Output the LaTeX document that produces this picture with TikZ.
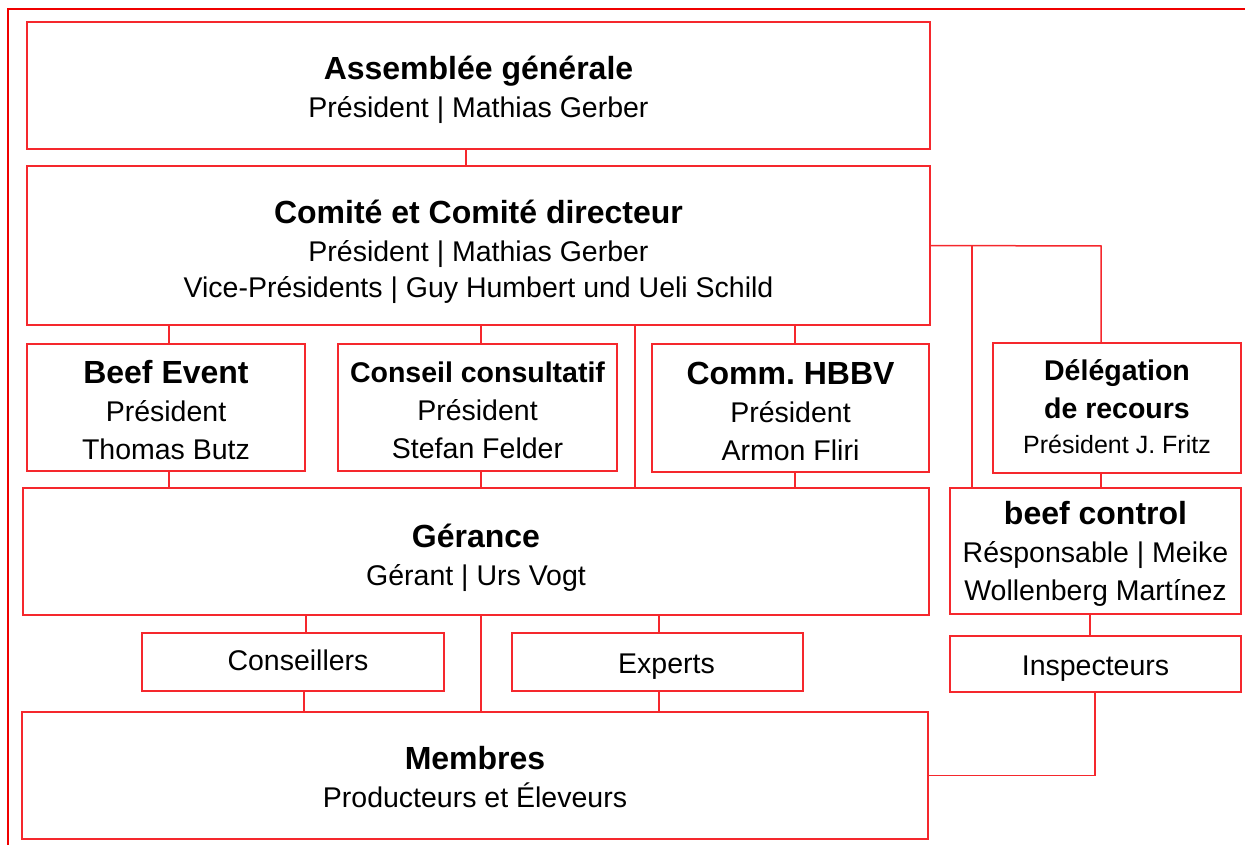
\documentclass[tikz,border=0pt]{standalone}
\usepackage{fontspec}
\setmainfont{Liberation Sans}
\frenchspacing
\definecolor{boxred}{RGB}{245,40,45}
\definecolor{framered}{RGB}{240,0,0}
\newcommand{\Tbig}[1]{{\fontsize{32}{38}\selectfont\bfseries #1}}
\newcommand{\Tsmall}[1]{{\fontsize{28.5}{38}\selectfont\bfseries #1}}
\newcommand{\Rsmall}[1]{{\fontsize{25}{36}\selectfont #1}}
\begin{document}
\begin{tikzpicture}[x=1pt,y=-1pt,
  box/.style={draw=boxred, line width=1.5pt, inner sep=0pt, outer sep=0pt,
    anchor=north west},
  txt/.style={inner sep=0pt, align=center, text=black,
    font=\fontsize{28.5}{38}\selectfont},
  link/.style={draw=boxred, line width=1.5pt}]
\useasboundingbox (0,0) rectangle (1245,845);
\draw[framered, line width=2pt] (8,845) -- (8,9) -- (1245,9);

% boxes
\node[box, minimum width=903pt, minimum height=127pt] (ag) at (27,22) {};
\node[box, minimum width=903pt, minimum height=159pt] (com) at (27,166) {};
\node[box, minimum width=278pt, minimum height=127pt] (be) at (27,344) {};
\node[box, minimum width=279pt, minimum height=127pt] (cc) at (338,344) {};
\node[box, minimum width=277pt, minimum height=128pt] (hb) at (652,344) {};
\node[box, minimum width=248pt, minimum height=130pt] (dr) at (993,343) {};
\node[box, minimum width=906pt, minimum height=127pt] (ge) at (23,488) {};
\node[box, minimum width=291pt, minimum height=126pt] (bc) at (950,488) {};
\node[box, minimum width=302pt, minimum height=58pt] (cs) at (142,633) {};
\node[box, minimum width=291pt, minimum height=58pt] (ex) at (512,633) {};
\node[box, minimum width=291pt, minimum height=56pt] (ins) at (950,636) {};
\node[box, minimum width=906pt, minimum height=127pt] (me) at (22,712) {};

% texts
\node[txt] (agT) at ([yshift=-4.5pt]ag.center)
  {\Tbig{Assemblée générale}\\Président | Mathias Gerber};
\node[txt] (comT) at ([yshift=-6.5pt]com.center)
  {\Tbig{Comité et Comité directeur}\\Président | Mathias Gerber\\[-2pt]Vice-Présidents | Guy Humbert und Ueli Schild};
\node[txt] (beT) at ([yshift=-3pt]be.center)
  {\Tbig{Beef Event}\\Président\\Thomas Butz};
\node[txt] (ccT) at ([yshift=-3pt]cc.center)
  {\Tsmall{Conseil consultatif}\\Président\\Stefan Felder};
\node[txt] (hbT) at ([yshift=-3pt]hb.center)
  {\Tbig{Comm. HBBV}\\Président\\Armon Fliri};
\node[txt] (drT) at ([yshift=1.5pt]dr.center)
  {\Tsmall{Délégation}\\\Tsmall{de recours}\\[-3pt]\Rsmall{Président J. Fritz}};
\node[txt] (geT) at ([yshift=-6pt]ge.center)
  {\Tbig{Gérance}\\Gérant | Urs Vogt};
\node[txt] (bcT) at ([yshift=-2.5pt]bc.center)
  {\Tbig{beef control}\\Résponsable | Meike\\Wollenberg Martínez};
\node[txt] (csT) at ([xshift=5pt,yshift=2pt]cs.center) {Conseillers};
\node[txt] (exT) at ([xshift=9pt,yshift=-5pt]ex.center) {Experts};
\node[txt] (insT) at ([yshift=-5pt]ins.center) {Inspecteurs};
\node[txt] (meT) at ([yshift=-2pt]me.center)
  {\Tbig{Membres}\\Producteurs et Éleveurs};

% connectors
\coordinate (j1) at (972,246);
\coordinate (j2) at (1101,246);

\draw[link] (466,0 |- ag.south) -- (466,0 |- com.north);
\draw[link] (com.east) -- (j2) -- (1101,0 |- dr.north);
\draw[link] (j1) -- (972,0 |- bc.north);
\draw[link] (1101,0 |- dr.south) -- (1101,0 |- bc.north);
\draw[link] (169,0 |- com.south) -- (169,0 |- be.north);
\draw[link] (481,0 |- com.south) -- (481,0 |- cc.north);
\draw[link] (795,0 |- com.south) -- (795,0 |- hb.north);
\draw[link] (635,0 |- com.south) -- (635,0 |- ge.north);
\draw[link] (169,0 |- be.south) -- (169,0 |- ge.north);
\draw[link] (481,0 |- cc.south) -- (481,0 |- ge.north);
\draw[link] (795,0 |- hb.south) -- (795,0 |- ge.north);
\draw[link] (306,0 |- ge.south) -- (306,0 |- cs.north);
\draw[link] (659,0 |- ge.south) -- (659,0 |- ex.north);
\draw[link] (481,0 |- ge.south) -- (481,0 |- me.north);
\draw[link] (304,0 |- cs.south) -- (304,0 |- me.north);
\draw[link] (659,0 |- ex.south) -- (659,0 |- me.north);
\draw[link] (1090,0 |- bc.south) -- (1090,0 |- ins.north);
\draw[link] (1095,0 |- ins.south) |- (me.east);
\end{tikzpicture}
\end{document}
